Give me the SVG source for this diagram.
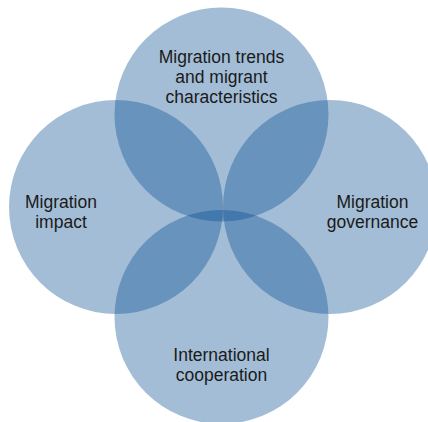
<svg xmlns="http://www.w3.org/2000/svg" width="428" height="422" viewBox="0 0 428 422">
  <style>
    .c { fill: #00498d; fill-opacity: 0.36; stroke: none; }
    .t { font-family: "Liberation Sans", Arial, sans-serif; font-size: 17.5px; fill: #1a1a1a; text-anchor: middle; }
  </style>
  <rect x="0" y="0" width="428" height="422" fill="#ffffff"/>
  <g id="node-trends">
    <circle class="c" cx="221.5" cy="114.5" r="107"/>
    <text class="t" x="221.5" y="62.5">Migration trends</text>
    <text class="t" x="221.5" y="82.5">and migrant</text>
    <text class="t" x="221.5" y="102.5">characteristics</text>
  </g>
  <g id="node-impact">
    <circle class="c" cx="116" cy="207" r="107"/>
    <text class="t" x="61" y="208">Migration</text>
    <text class="t" x="61" y="227.5">impact</text>
  </g>
  <g id="node-governance">
    <circle class="c" cx="330" cy="207" r="107"/>
    <text class="t" x="372.5" y="208">Migration</text>
    <text class="t" x="372.5" y="227.5">governance</text>
  </g>
  <g id="node-cooperation">
    <circle class="c" cx="221.5" cy="317" r="107"/>
    <text class="t" x="221.5" y="361">International</text>
    <text class="t" x="221.5" y="381">cooperation</text>
  </g>
  <g id="connectors"/>
</svg>
